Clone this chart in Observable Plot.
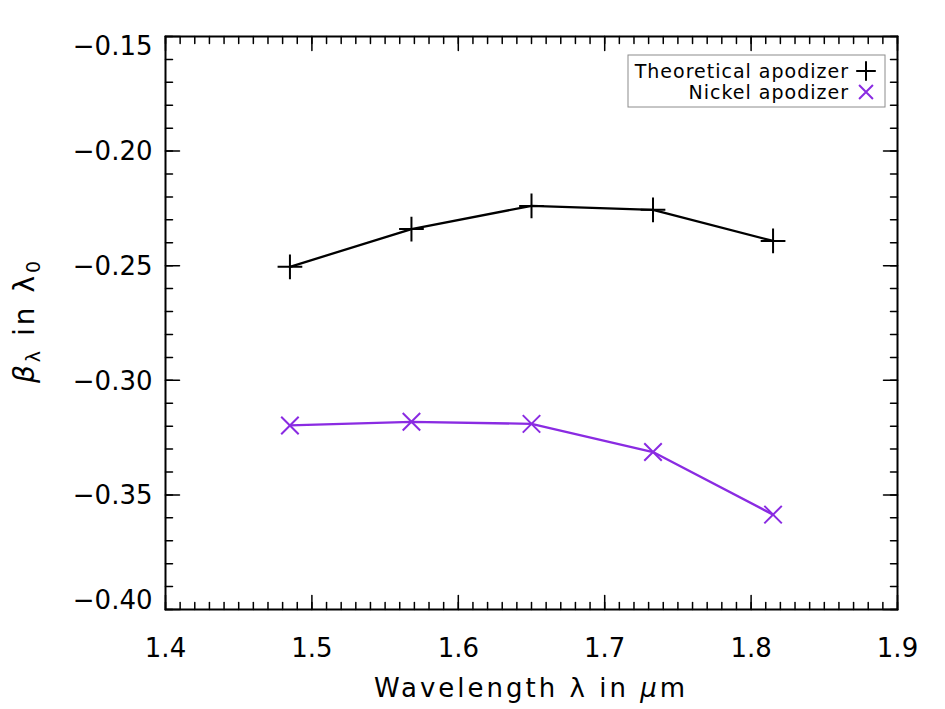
<!DOCTYPE html>
<html>
<head>
<meta charset="utf-8">
<script src="https://cdn.jsdelivr.net/npm/d3@7"></script>
<script src="https://cdn.jsdelivr.net/npm/@observablehq/plot@0.6"></script>
<style>
  html, body { margin: 0; padding: 0; background: white; }
  #chart { width: 945px; height: 709px; }
</style>
</head>
<body>
<div id="chart"></div>
<script>
// ---- data ----
const wavelengths = [1.485, 1.568, 1.650, 1.733, 1.815];
const theoretical = [-0.2505, -0.2340, -0.2239, -0.2256, -0.2392];
const nickel = [-0.3197, -0.3181, -0.3190, -0.3313, -0.3586];
const seriesNames = ["Theoretical apodizer", "Nickel apodizer"];
const seriesColors = ["#000000", "#8a2be2"];
const seriesSymbols = ["plus", "times"];
const xTicks = [1.4, 1.5, 1.6, 1.7, 1.8, 1.9];
const yTicks = [-0.40, -0.35, -0.30, -0.25, -0.20, -0.15];
const xDomain = [1.4, 1.9];
const yDomain = [-0.40, -0.15];

const rows = [];
wavelengths.forEach((w, i) => {
  rows.push({series: seriesNames[0], x: w, y: theoretical[i]});
  rows.push({series: seriesNames[1], x: w, y: nickel[i]});
});

const xMinor = d3.range(0, 51).map(i => +(1.4 + i * 0.01).toFixed(2));
const yMinor = d3.range(0, 26).map(i => +(-0.40 + i * 0.01).toFixed(2));

const tickShape = {draw(ctx, l) { ctx.moveTo(0, 0); ctx.lineTo(0, -l); }};
const FONT = "DejaVu Sans";

function ticks(data, len, side) {
  const o = {anchor: "start", shape: tickShape, length: len, stroke: "black", strokeWidth: 1.5};
  if (side === "bottom") return Plot.vector(data, {...o, x: d => d, y: () => yDomain[0], rotate: 0});
  if (side === "top") return Plot.vector(data, {...o, x: d => d, y: () => yDomain[1], rotate: 180});
  if (side === "left") return Plot.vector(data, {...o, y: d => d, x: () => xDomain[0], rotate: 90});
  return Plot.vector(data, {...o, y: d => d, x: () => xDomain[1], rotate: -90});
}

const yAxisOpts = {tickSize: 0, tickPadding: 13, fontSize: 26, tickFormat: d3.format(".2f"), label: null};

const chart = Plot.plot({
  width: 945,
  height: 709,
  marginLeft: 165,
  marginRight: 48,
  marginTop: 36,
  marginBottom: 100,
  style: {fontFamily: FONT, background: "white", color: "black"},
  x: {domain: xDomain},
  y: {domain: yDomain},
  color: {domain: seriesNames, range: seriesColors},
  symbol: {domain: seriesNames, range: seriesSymbols},
  marks: [
    Plot.axisX({ticks: xTicks, tickSize: 0, tickPadding: 29, fontSize: 26, tickFormat: d3.format(".1f"), label: null}),
    Plot.axisY({...yAxisOpts, ticks: yTicks.slice(1, -1), dy: 1}),
    Plot.axisY({...yAxisOpts, ticks: yTicks.slice(0, 1), dy: -9}),
    Plot.axisY({...yAxisOpts, ticks: yTicks.slice(-1), dy: 10}),
    ticks(xMinor, 7, "bottom"), ticks(xMinor, 7, "top"),
    ticks(xTicks, 14, "bottom"), ticks(xTicks, 14, "top"),
    ticks(yMinor, 7, "left"), ticks(yMinor, 7, "right"),
    ticks(yTicks, 14, "left"), ticks(yTicks, 14, "right"),
    Plot.frame({stroke: "black", strokeWidth: 2}),
    Plot.line(rows, {x: "x", y: "y", z: "series", stroke: "series", strokeWidth: 2.3}),
    Plot.dot(rows, {x: "x", y: "y", symbol: "series", stroke: "series", r: 8, strokeWidth: 2})
  ]
});
document.getElementById("chart").appendChild(chart);

// ---- axis titles and legend ----
const svg = d3.select(chart);
const xs = chart.scale("x"), ys = chart.scale("y");
const cx = (xs.range[0] + xs.range[1]) / 2;

const xl = svg.append("text").attr("x", cx).attr("y", 697).attr("text-anchor", "middle")
  .attr("font-family", FONT).attr("font-size", 26).attr("letter-spacing", 3).attr("fill", "black");
xl.append("tspan").text("Wavelength λ in ");
xl.append("tspan").attr("font-style", "italic").text("μ");
xl.append("tspan").text("m");

const cy = (ys.range[0] + ys.range[1]) / 2;
const yl = svg.append("text").attr("transform", `translate(34,${cy - 2}) rotate(-90)`).attr("text-anchor", "middle")
  .attr("font-family", FONT).attr("font-size", 28).attr("letter-spacing", 3).attr("fill", "black");
yl.append("tspan").attr("font-style", "italic").text("β");
yl.append("tspan").attr("font-size", 19).attr("dy", 6).text("λ");
yl.append("tspan").attr("dy", -6).text(" in λ");
yl.append("tspan").attr("font-size", 19).attr("dy", 6).text("0");

const lg = svg.append("g");
lg.append("rect").attr("x", 628).attr("y", 55).attr("width", 257).attr("height", 52)
  .attr("fill", "white").attr("stroke", "#8c8c8c").attr("stroke-width", 1);
seriesNames.forEach((name, i) => {
  const yy = 71 + i * 21;
  lg.append("text").attr("x", 849).attr("y", yy).attr("dy", "0.35em").attr("text-anchor", "end")
    .attr("font-family", FONT).attr("font-size", 19).attr("letter-spacing", 1).attr("fill", "black").text(name);
  const sym = seriesSymbols[i] === "plus" ? d3.symbolPlus : d3.symbolTimes;
  lg.append("path").attr("transform", `translate(866,${yy})`)
    .attr("d", d3.symbol(sym, 9 * 9 * Math.PI * 0.5)())
    .attr("fill", "none").attr("stroke", seriesColors[i]).attr("stroke-width", 2);
});
</script>
</body>
</html>
